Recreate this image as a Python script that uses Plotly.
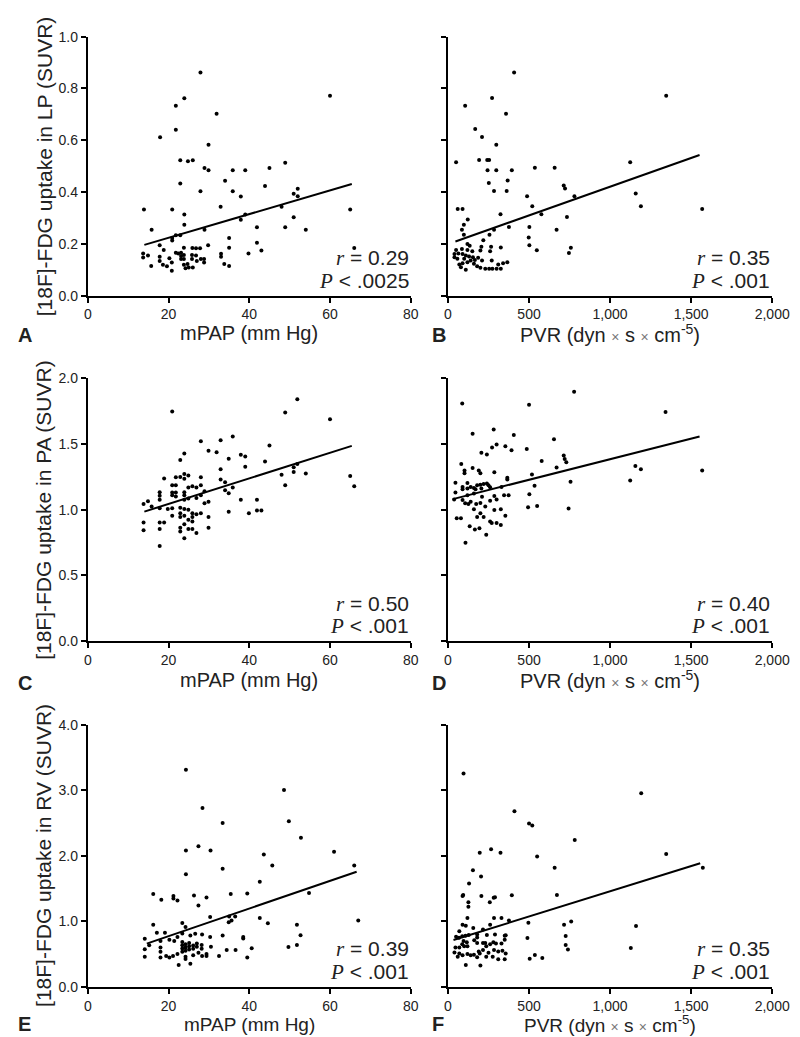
import plotly.graph_objects as go

# ---------------- data ----------------
A_x = [27.9, 60.0, 23.9, 21.8, 31.9, 21.8, 17.9, 29.9, 22.9, 24.8, 26.0, 48.9, 28.9, 29.9, 35.9, 39.0, 45.0, 34.0,
       22.9, 43.9, 52.0, 51.0, 52.0, 27.9, 35.9, 37.9, 13.9, 20.9, 65.0, 32.9, 48.0, 23.9, 39.0, 37.9, 51.0, 23.9,
       15.8, 28.9, 41.9, 48.9, 54.0, 21.8, 22.9, 20.9, 20.9, 41.9, 43.0, 66.0, 25.9,
       17.8, 18.8, 13.7, 13.7, 14.9, 15.7, 17.8, 17.8, 18.6, 19.6, 20.2, 20.8, 20.8, 21.8, 22.4, 23.1, 23.1, 23.1,
       23.8, 23.8, 23.8, 23.8, 24.2, 24.7, 25.0, 25.8, 25.8, 26.0, 26.8, 27.8, 26.8, 27.0, 28.0, 28.8, 28.8, 29.8,
       33.0, 33.0, 33.8, 35.0, 35.0, 35.0, 39.8]
A_y = [0.862, 0.772, 0.762, 0.733, 0.702, 0.641, 0.612, 0.583, 0.523, 0.519, 0.523, 0.513, 0.493, 0.484, 0.484,
       0.484, 0.493, 0.444, 0.433, 0.423, 0.413, 0.393, 0.384, 0.403, 0.403, 0.383, 0.333, 0.333, 0.333, 0.343,
       0.343, 0.313, 0.313, 0.293, 0.303, 0.274, 0.254, 0.254, 0.264, 0.264, 0.254, 0.233, 0.233, 0.223, 0.213,
       0.204, 0.174, 0.184, 0.184,
       0.195, 0.176, 0.163, 0.147, 0.155, 0.114, 0.150, 0.134, 0.119, 0.113, 0.144, 0.128, 0.096, 0.166, 0.163,
       0.166, 0.153, 0.141, 0.185, 0.157, 0.141, 0.119, 0.106, 0.122, 0.109, 0.157, 0.141, 0.109, 0.183, 0.183,
       0.155, 0.134, 0.141, 0.141, 0.128, 0.195, 0.162, 0.150, 0.122, 0.114, 0.223, 0.185, 0.163]
A_fit_x = [14.0, 65.4]
A_fit_y = [0.196, 0.431]

B_x = [408, 1346, 272, 106, 358, 168, 210, 298, 50, 192, 242, 254, 1124, 244, 298, 394, 536, 658, 368, 252, 714,
       722, 284, 362, 780, 1158, 488, 60, 90, 520, 1190, 1568, 324, 576, 122, 734, 98, 376, 502, 86, 284, 670, 256,
       98, 498, 218, 502, 758, 548, 746,
       120, 134, 206, 266, 326, 50, 86, 120, 150, 200, 260, 40, 64, 90, 110, 130, 154, 166, 186, 210, 140, 120, 90,
       70, 160, 180, 200, 230, 254, 274, 300, 326, 310, 340, 366, 270, 80, 110, 40, 58, 100]
B_y = [0.862, 0.772, 0.763, 0.733, 0.702, 0.643, 0.613, 0.583, 0.515, 0.524, 0.524, 0.524, 0.515, 0.484, 0.484,
       0.484, 0.494, 0.494, 0.445, 0.435, 0.425, 0.414, 0.404, 0.404, 0.384, 0.394, 0.384, 0.335, 0.335, 0.345,
       0.345, 0.335, 0.314, 0.314, 0.294, 0.304, 0.274, 0.265, 0.265, 0.254, 0.254, 0.254, 0.235, 0.235, 0.224,
       0.214, 0.195, 0.185, 0.175, 0.165,
       0.199, 0.193, 0.189, 0.189, 0.186, 0.176, 0.180, 0.176, 0.171, 0.174, 0.171, 0.161, 0.163, 0.161, 0.155,
       0.151, 0.148, 0.138, 0.146, 0.136, 0.136, 0.129, 0.125, 0.120, 0.123, 0.113, 0.108, 0.104, 0.104, 0.104,
       0.104, 0.104, 0.120, 0.125, 0.129, 0.136, 0.110, 0.100, 0.148, 0.142, 0.142]
B_fit_x = [46, 1552]
B_fit_y = [0.209, 0.543]

C_x = [20.9, 51.9, 48.9, 60.0, 35.9, 28.0, 32.9, 45.0, 29.9, 31.9, 23.9, 37.9, 39.0, 34.9, 22.9, 43.9, 39.0, 32.9,
       51.9, 51.0, 51.0, 48.0, 54.0, 65.0, 66.0, 48.9, 18.9, 21.8, 22.9, 23.9, 24.9, 23.9, 28.0, 32.9, 34.0, 20.9,
       21.8, 24.9, 25.9, 26.9, 28.0, 35.9, 34.0, 34.9, 28.9, 23.9, 21.8, 20.9, 17.8, 17.8, 17.8, 20.9, 21.8, 23.9,
       23.9, 24.9, 28.0, 26.9, 29.9, 28.9, 37.9, 41.9, 13.8, 14.9, 15.8, 17.8, 19.8, 20.9, 22.9, 23.9, 24.9, 22.9,
       20.9, 25.9, 26.9, 28.0, 29.9, 23.9, 22.9, 25.9, 34.9, 39.9, 41.9, 43.0, 13.8, 17.8, 18.9, 13.8, 17.8, 23.9,
       24.9, 25.9, 22.9, 22.9, 24.9, 25.9, 26.9, 29.9, 23.9, 17.8]
C_y = [1.748, 1.840, 1.740, 1.688, 1.558, 1.521, 1.528, 1.488, 1.448, 1.438, 1.428, 1.418, 1.406, 1.388, 1.378,
       1.368, 1.328, 1.308, 1.348, 1.323, 1.288, 1.266, 1.276, 1.256, 1.178, 1.186, 1.238, 1.248, 1.250, 1.273,
       1.260, 1.236, 1.248, 1.231, 1.209, 1.186, 1.186, 1.169, 1.178, 1.169, 1.186, 1.169, 1.148, 1.126, 1.141,
       1.134, 1.131, 1.131, 1.134, 1.106, 1.076, 1.110, 1.100, 1.110, 1.076, 1.086, 1.110, 1.090, 1.061, 1.049,
       1.076, 1.076, 1.044, 1.064, 1.024, 1.011, 1.006, 1.011, 1.016, 1.006, 1.000, 0.974, 0.954, 0.974, 0.966,
       0.974, 0.944, 0.954, 0.944, 0.944, 0.984, 0.974, 0.994, 0.994, 0.904, 0.904, 0.904, 0.844, 0.854, 0.889,
       0.924, 0.910, 0.864, 0.834, 0.854, 0.854, 0.824, 0.864, 0.784, 0.724]
C_fit_x = [14.0, 65.4]
C_fit_y = [0.986, 1.486]

D_x = [778, 88, 500, 1342, 152, 282, 406, 654, 300, 354, 272, 486, 392, 206, 240, 714, 720, 730, 578, 82, 102, 102,
       152, 190, 200, 286, 366, 366, 518, 670, 1156, 1190, 1568, 1124, 756, 534, 502, 494, 550, 744,
       46, 46, 38, 90, 90, 120, 120, 140, 160, 170, 180, 200, 220, 240, 250, 260, 206, 160, 120, 90, 106, 126, 140,
       174, 200, 210, 260, 286, 300, 330, 346, 374, 54, 80, 160, 200, 286, 326, 220, 260, 270, 300, 326, 354, 134,
       166, 194, 236, 108, 180, 230]
D_y = [1.898, 1.808, 1.798, 1.743, 1.578, 1.610, 1.568, 1.536, 1.496, 1.483, 1.473, 1.463, 1.453, 1.433, 1.421,
       1.413, 1.386, 1.361, 1.371, 1.348, 1.298, 1.278, 1.318, 1.298, 1.278, 1.286, 1.243, 1.231, 1.268, 1.321,
       1.333, 1.308, 1.298, 1.223, 1.213, 1.183, 1.118, 1.019, 1.028, 1.009,
       1.206, 1.131, 1.079, 1.174, 1.156, 1.203, 1.161, 1.174, 1.166, 1.156, 1.186, 1.191, 1.196, 1.200, 1.186,
       1.171, 1.161, 1.124, 1.111, 1.074, 1.049, 1.044, 1.060, 1.044, 1.052, 1.099, 1.069, 1.104, 1.079, 1.174,
       1.111, 1.111, 0.936, 0.936, 1.004, 0.974, 0.999, 1.004, 0.944, 0.911, 0.900, 0.900, 0.884, 0.954, 0.874,
       0.849, 0.860, 0.809, 0.749, 0.944, 1.024]
D_fit_x = [30, 1552]
D_fit_y = [1.081, 1.558]

E_x = [24.3, 48.6, 28.4, 33.4, 49.8, 52.8, 24.3, 27.4, 30.4, 61.0, 43.6, 24.3, 33.4, 45.7, 66.0, 42.6, 54.8, 16.2,
       18.2, 21.2, 21.2, 22.2, 26.3, 29.4, 27.4, 35.4, 39.5, 30.3, 35.0, 35.6, 34.9, 36.5, 42.6, 44.6, 67.0, 51.8,
       52.7, 49.7, 51.8, 38.5, 38.5, 40.6, 39.5,
       16.2, 23.4, 24.2, 19.1, 14.1, 15.2, 22.2, 23.4, 25.4, 26.6, 28.3, 30.3, 33.4, 18.0, 20.2, 21.4, 14.1, 14.1,
       18.0, 18.0, 18.0, 19.4, 20.2, 21.1, 22.2, 23.4, 23.4, 23.4, 23.4, 24.2, 24.2, 24.2, 24.2, 24.2, 25.1, 25.1,
       25.1, 26.1, 26.1, 27.0, 27.0, 28.2, 28.2, 27.4, 26.1, 28.3, 29.4, 29.4, 32.5, 34.4, 36.6, 30.5, 22.5, 25.4,
       17.1]
E_y = [3.315, 3.006, 2.731, 2.502, 2.527, 2.277, 2.082, 2.147, 2.082, 2.062, 2.022, 1.718, 1.803, 1.853, 1.853,
       1.603, 1.433, 1.418, 1.328, 1.388, 1.348, 1.318, 1.393, 1.363, 1.243, 1.418, 1.423, 1.064, 1.074, 1.014,
       0.984, 1.074, 1.049, 0.969, 1.014, 0.949, 0.789, 0.609, 0.639, 0.759, 0.739, 0.589, 0.449,
       0.949, 0.974, 0.914, 0.824, 0.734, 0.634, 0.759, 0.814, 0.784, 0.810, 0.800, 0.759, 0.784, 0.699, 0.720,
       0.699, 0.574, 0.459, 0.599, 0.534, 0.449, 0.470, 0.449, 0.470, 0.499, 0.684, 0.634, 0.584, 0.534, 0.649,
       0.599, 0.549, 0.460, 0.425, 0.670, 0.620, 0.570, 0.630, 0.580, 0.660, 0.610, 0.640, 0.580, 0.520, 0.480,
       0.470, 0.500, 0.470, 0.470, 0.560, 0.560, 0.610, 0.334, 0.350, 0.824]
E_fit_x = [14.6, 66.6]
E_fit_y = [0.659, 1.758]

F_x = [96, 1192, 410, 500, 520, 782, 1346, 196, 266, 324, 550, 154, 204, 658, 1572, 130, 90, 94, 206, 394, 290, 282,
       258, 126, 126, 672, 496, 716, 760, 1160, 726, 490, 726, 740, 1128, 504, 536, 582,
       120, 284, 330, 376, 90, 110, 156, 70, 216, 260, 50, 68, 88, 108, 128, 180, 180, 240, 290, 350, 96, 116, 88,
       100, 120, 70, 46, 162, 180, 216, 230, 236, 260, 280, 296, 330, 350, 40, 70, 90, 120, 140, 160, 190, 196, 216,
       250, 284, 310, 336, 356, 60, 180, 236, 276, 310, 350, 110, 200, 356]
F_y = [3.256, 2.956, 2.682, 2.492, 2.462, 2.242, 2.027, 2.047, 2.102, 2.047, 1.988, 1.778, 1.683, 1.818, 1.818,
       1.578, 1.388, 1.400, 1.388, 1.398, 1.368, 1.360, 1.293, 1.293, 1.224, 1.403, 0.979, 0.949, 0.999, 0.929,
       0.774, 0.744, 0.639, 0.569, 0.594, 0.429, 0.484, 0.439,
       1.049, 1.049, 1.049, 1.014, 0.949, 0.934, 0.899, 0.849, 0.874, 0.949, 0.764, 0.750, 0.770, 0.780, 0.790,
       0.754, 0.799, 0.790, 0.800, 0.780, 0.700, 0.680, 0.650, 0.620, 0.620, 0.600, 0.600, 0.710, 0.670, 0.670,
       0.670, 0.620, 0.650, 0.680, 0.660, 0.660, 0.720, 0.524, 0.510, 0.480, 0.500, 0.480, 0.490, 0.540, 0.510,
       0.560, 0.520, 0.560, 0.540, 0.550, 0.510, 0.460, 0.450, 0.460, 0.460, 0.420, 0.420, 0.334, 0.325, 0.789]
F_fit_x = [34, 1556]
F_fit_y = [0.714, 1.888]

panel_letters = ["A", "B", "C", "D", "E", "F"]
r_texts = ["0.29", "0.35", "0.50", "0.40", "0.39", "0.35"]
p_texts = [".0025", ".001", ".001", ".001", ".001", ".001"]
y_titles = ["[18F]-FDG uptake in LP (SUVR)", "[18F]-FDG uptake in PA (SUVR)", "[18F]-FDG uptake in RV (SUVR)"]
x_titles = ["mPAP (mm Hg)",
            "PVR (dyn <span style='font-size:14px;fill:#777'>×</span> s "
            "<span style='font-size:14px;fill:#777'>×</span> cm<sup>-5</sup>)"]
mpap_ticks = [0, 20, 40, 60, 80]
pvr_ticks = [0, 500, 1000, 1500, 2000]
pvr_ticktext = ["0", "500", "1,000", "1,500", "2,000"]
y_ranges = [[0, 1.0], [0, 2.0], [0, 4.0]]
y_dticks = [0.2, 0.5, 1.0]

# ---------------- layout geometry ----------------
W, H = 800, 1037
x_dom = [[78 / W, 410 / W], [448.3 / W, 781.7 / W]]
rows_px = [(21, 284), (368, 635), (720, 986)]
y_dom = [[1 - b / H, 1 - t / H] for (t, b) in rows_px]
title_px = [322, 674, 1024]
letter_px = [324, 677, 1024]

FONT = "Liberation Sans, Arial, Helvetica, sans-serif"
SERIF = "Liberation Serif, Times New Roman, serif"
TXT = "#222"

panels = [(A_x, A_y, A_fit_x, A_fit_y), (B_x, B_y, B_fit_x, B_fit_y),
          (C_x, C_y, C_fit_x, C_fit_y), (D_x, D_y, D_fit_x, D_fit_y),
          (E_x, E_y, E_fit_x, E_fit_y), (F_x, F_y, F_fit_x, F_fit_y)]

fig = go.Figure()
annotations = []
layout_axes = {}
for i, (px, py, fx, fy) in enumerate(panels):
    row, col = divmod(i, 2)
    n = i + 1
    xa = "x" if n == 1 else f"x{n}"
    ya = "y" if n == 1 else f"y{n}"
    fig.add_trace(go.Scatter(x=px, y=py, mode="markers", xaxis=xa, yaxis=ya,
                             marker=dict(color="black", size=4), cliponaxis=False, showlegend=False))
    fig.add_trace(go.Scatter(x=fx, y=fy, mode="lines", xaxis=xa, yaxis=ya,
                             line=dict(color="black", width=2), showlegend=False))
    xkey = "xaxis" if n == 1 else f"xaxis{n}"
    ykey = "yaxis" if n == 1 else f"yaxis{n}"
    common = dict(showline=True, linecolor="black", linewidth=2, ticks="outside", ticklen=5, tickwidth=2,
                  tickcolor="black", showgrid=False, zeroline=False,
                  tickfont=dict(family=FONT, size=14, color=TXT))
    if col == 0:
        xcfg = dict(range=[0, 80], tickvals=mpap_ticks)
    else:
        xcfg = dict(range=[0, 2000], tickvals=pvr_ticks, ticktext=pvr_ticktext)
    layout_axes[xkey] = dict(domain=x_dom[col], anchor=ya, **xcfg, **common)
    layout_axes[ykey] = dict(domain=y_dom[row], anchor=xa, range=y_ranges[row], dtick=y_dticks[row],
                             tick0=0, tickformat=".1f", showticklabels=(col == 0), **common)

    # r and P annotations
    y_axis_px = rows_px[row][1]
    xr = x_dom[col][1]
    annotations.append(dict(xref="paper", yref="paper", x=xr, y=1 - (y_axis_px - 38) / H,
                            xanchor="right", yanchor="middle", showarrow=False,
                            text=f"<span style='font-family:{SERIF};font-style:italic'>r</span> = {r_texts[i]}",
                            font=dict(family=FONT, size=21, color=TXT)))
    annotations.append(dict(xref="paper", yref="paper", x=xr, y=1 - (y_axis_px - 15) / H,
                            xanchor="right", yanchor="middle", showarrow=False,
                            text=f"<span style='font-family:{SERIF};font-style:italic'>P</span> < {p_texts[i]}",
                            font=dict(family=FONT, size=21, color=TXT)))
    # x title
    annotations.append(dict(xref="paper", yref="paper", x=sum(x_dom[col]) / 2,
                            y=1 - title_px[row] / H,
                            xanchor="center", yanchor="middle", showarrow=False, text=x_titles[col],
                            font=dict(family=FONT, size=20 if row < 2 else 19, color=TXT)))
    # panel letter
    lx = 4 / W if col == 0 else 430 / W
    annotations.append(dict(xref="paper", yref="paper", x=lx, y=1 - letter_px[row] / H,
                            xanchor="left", yanchor="middle", showarrow=False, text=f"<b>{panel_letters[i]}</b>",
                            font=dict(family=FONT, size=20, color=TXT)))
    if col == 0:
        annotations.append(dict(xref="paper", yref="paper", x=33 / W, y=sum(y_dom[row]) / 2,
                                xanchor="center", yanchor="middle", showarrow=False, textangle=-90,
                                text=y_titles[row], font=dict(family=FONT, size=21, color=TXT)))

fig.update_layout(width=W, height=H, margin=dict(l=0, r=0, t=0, b=0), plot_bgcolor="white",
                  paper_bgcolor="white", annotations=annotations, **layout_axes)
fig.write_html("out.html")
